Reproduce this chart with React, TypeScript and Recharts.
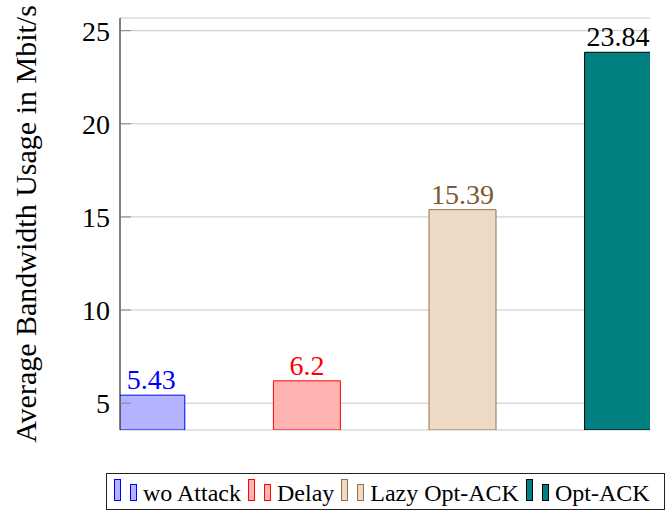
import {
  BarChart,
  Bar,
  Cell,
  XAxis,
  YAxis,
  CartesianGrid,
  Legend,
  LabelList,
} from "recharts";

const categories = ["wo Attack", "Delay", "Lazy Opt-ACK", "Opt-ACK"];
const usage = [5.43, 6.2, 15.39, 23.84];
const yTicks = [5, 10, 15, 20, 25];

const fills = ["#b3b3ff", "#ffb3b3", "#ecd9c6", "#008080"];
const strokes = ["#0000ff", "#ff0000", "#9a7048", "#000000"];
const labelColors = ["#0000ff", "#ff0000", "#80582f", "#000000"];

const data = categories.map((name, i) => ({ x: i, name, value: usage[i] }));

const FONT = "Liberation Serif, DejaVu Serif, serif";

const ValueLabel = (props: any) => {
  const { x, y, width, value, index } = props;
  return (
    <text
      x={x + width / 2}
      y={y - 6}
      textAnchor="middle"
      fontFamily={FONT}
      fontSize={28}
      fill={labelColors[index]}
    >
      {value}
    </text>
  );
};

const LegendBox = () => (
  <div style={{ position: "relative", width: 670, height: 82 }}>
    <div
      style={{
        position: "absolute",
        left: 106,
        top: 43,
        width: 557,
        height: 35,
        border: "1px solid #222",
        boxSizing: "content-box",
        fontFamily: FONT,
        fontSize: 24,
        lineHeight: "28px",
        whiteSpace: "nowrap",
      }}
    >
      <div style={{ paddingLeft: 7, paddingTop: 5 }}>
        {categories.map((name, i) => (
          <span key={name} style={{ marginRight: 7 }}>
            <span
              style={{
                display: "inline-block",
                width: 5,
                height: 20,
                background: fills[i],
                border: `1px solid ${strokes[i]}`,
                marginRight: 9,
                verticalAlign: "baseline",
              }}
            />
            <span
              style={{
                display: "inline-block",
                width: 5,
                height: 15,
                background: fills[i],
                border: `1px solid ${strokes[i]}`,
                marginRight: 6,
                verticalAlign: "baseline",
              }}
            />
            {name}
          </span>
        ))}
      </div>
    </div>
  </div>
);

const BandwidthChart = () => {
  return (
    <div style={{ position: "absolute", left: 0, top: 0, width: 670, height: 512, background: "#fff" }}>
      <BarChart
        width={670}
        height={512}
        data={data}
        margin={{ top: 18, right: 20, left: 0, bottom: 0 }}
        style={{ fontFamily: FONT }}
      >
        <CartesianGrid vertical={false} stroke="#c8c8c8" strokeWidth={1} />
        <XAxis
          dataKey="x"
          type="number"
          domain={[-0.203, 3.203]}
          allowDataOverflow
          tick={false}
          tickLine={false}
          height={0}
          axisLine={{ stroke: "#000" }}
        />
        <XAxis
          xAxisId="top"
          dataKey="x"
          type="number"
          orientation="top"
          domain={[-0.203, 3.203]}
          allowDataOverflow
          tick={false}
          tickLine={false}
          height={0}
          axisLine={{ stroke: "#000" }}
        />
        <YAxis
          type="number"
          domain={[3.56, 25.68]}
          ticks={yTicks}
          allowDataOverflow
          width={120}
          tickSize={-11}
          tickMargin={21}
          tickLine={{ stroke: "#888" }}
          axisLine={{ stroke: "#000" }}
          tick={{ fontFamily: FONT, fontSize: 28, fill: "#000" }}
          label={({ viewBox }: any) => (
            <text
              x={36}
              y={viewBox.y + viewBox.height / 2}
              transform={`rotate(-90, 36, ${viewBox.y + viewBox.height / 2})`}
              textAnchor="middle"
              fontFamily={FONT}
              fontSize={30}
              fill="#000"
            >
              Average Bandwidth Usage in Mbit/s
            </text>
          )}
        />
        <YAxis
          yAxisId="right"
          orientation="right"
          type="number"
          domain={[3.56, 25.68]}
          ticks={yTicks}
          allowDataOverflow
          width={0}
          tickSize={-11}
          tickLine={{ stroke: "#888" }}
          axisLine={{ stroke: "#000" }}
          tick={() => <g />}
        />
        <Legend
          verticalAlign="bottom"
          wrapperStyle={{ left: 0, bottom: 0, width: 670 }}
          content={() => <LegendBox />}
        />
        <Bar dataKey="value" barSize={67} isAnimationActive={false}>
          {data.map((d, i) => (
            <Cell key={d.name} fill={fills[i]} stroke={strokes[i]} strokeWidth={1} />
          ))}
          <LabelList dataKey="value" content={ValueLabel} />
        </Bar>
      </BarChart>
    </div>
  );
};

export default function App() {
  return <BandwidthChart />;
}
